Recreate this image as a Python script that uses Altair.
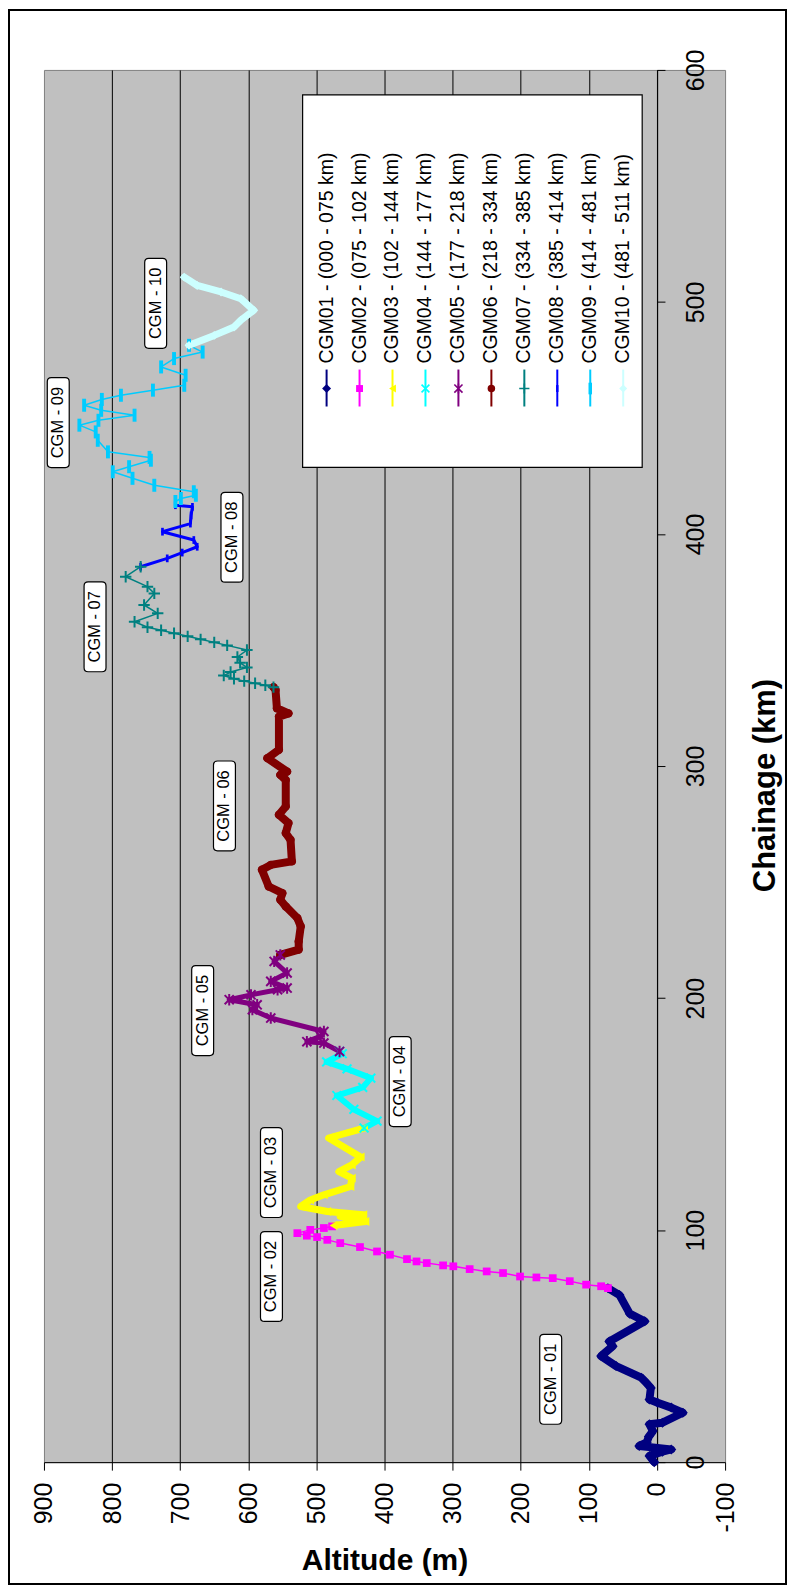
import altair as alt
import pandas as pd

# ---------------- data ----------------
series_short = ["CGM01", "CGM02", "CGM03", "CGM04", "CGM05",
                "CGM06", "CGM07", "CGM08", "CGM09", "CGM10"]
series_names = ["CGM01 - (000 - 075 km)", "CGM02 - (075 - 102 km)",
                "CGM03 - (102 - 144 km)", "CGM04 - (144 - 177 km)",
                "CGM05 - (177 - 218 km)", "CGM06 - (218 - 334 km)",
                "CGM07 - (334 - 385 km)", "CGM08 - (385 - 414 km)",
                "CGM09 - (414 - 481 km)", "CGM10 - (481 - 511 km)"]

cgm01_ch = [0, 2.7, 4.5, 5.5, 7, 8.5, 11, 13.4, 16.3, 17, 21.3, 23.5, 25.6, 27, 32,
            34.3, 36.4, 41.4, 45.7, 50, 52, 60.7, 64, 72, 75]
cgm01_alt = [4, 11, -8, -21, 26, 15, 12, 6, 11, -8, -38, -21, -1, 11, 9,
             16, 23, 60, 82, 65, 70, 18, 40, 55, 72]

cgm02_ch = [75, 75.8, 76.5, 78, 79.3, 79.6, 80, 81.5, 82.2, 83.2, 84.4, 84.8, 85.8,
            86.5, 87.5, 89.4, 90.8, 92.7, 94.4, 95.8, 97, 97.6, 98.7, 100.1, 100.9, 101.6]
cgm02_alt = [72, 82, 104, 128, 153, 177, 201, 226, 250, 275, 299, 314, 338,
             353, 367, 392, 411, 436, 465, 484, 499, 514, 528, 509, 489, 477]

cgm03_ch = [102, 103.7, 105.9, 106.6, 108, 110.2, 113, 115.2, 118.8, 122.4, 125.2,
            128.1, 131.5, 139.7, 144]
cgm03_alt = [475, 428, 465, 431, 484, 523, 509, 489, 450, 448, 467, 448, 435, 482, 430]

cgm04_ch = [144, 147, 152, 158, 161.5, 165.5, 169.5, 172.5, 176, 177]
cgm04_alt = [430, 411, 445, 470, 432, 420, 455, 485, 462, 466]

cgm05_ch = [177, 180.6, 181.2, 183.5, 185.6, 191.4, 195, 197.1, 199.3, 201.4, 203.6,
            204.3, 207.2, 210.8, 215.8, 218.6]
cgm05_alt = [466, 489, 514, 494, 489, 567, 594, 587, 628, 596, 557, 543, 567, 543, 562, 553]

cgm06_ch = [218.6, 220.9, 224.4, 230.9, 234.5, 239.5, 242.4, 245.2, 248.1, 255.3, 257.4,
            258.9, 268.2, 271.1, 275.4, 279, 282.6, 294, 296.2, 297.6, 303.4, 307,
            321.3, 322.7, 324.9, 332.8, 334]
cgm06_alt = [553, 526, 526, 523, 528, 545, 553, 550, 570, 580, 567, 536, 538, 545, 541,
             555, 545, 545, 553, 543, 572, 555, 555, 541, 558, 560, 563]

cgm07_ch = [334, 334.8, 335.7, 336.6, 337.6, 339, 340.5, 342.5, 344.5, 347, 350, 352,
            353.3, 354.6, 355.9, 357.2, 358.5, 359.8, 362.2, 365.8, 369.4, 374.4, 377.3,
            381.6, 385.9]
cgm07_alt = [563, 575, 590, 606, 621, 636, 626, 602, 612, 616, 602, 631, 650, 670, 689,
             709, 728, 748, 767, 733, 753, 738, 748, 780, 758]

cgm08_ch = [385.9, 389.5, 392, 394.5, 397.4, 401, 404.5, 408, 411.7, 412.4, 414]
cgm08_alt = [758, 719, 697, 675, 680, 726, 685, 684, 682, 707, 707]

cgm09_ch = [414, 415.3, 416.7, 418.2, 421, 424, 426.8, 429, 431.8, 433, 435.4, 440.4,
            444, 446.9, 449, 451.2, 453.3, 455.5, 458, 459.8, 462, 464.1, 468.4, 472,
            475.6, 478.4, 481.3]
cgm09_alt = [707, 699, 677, 680, 738, 770, 799, 775, 743, 745, 806, 821, 824, 848, 820,
             767, 816, 841, 815, 787, 740, 694, 692, 728, 709, 667, 687]

cgm10_ch = [481.3, 485.6, 489.2, 492.1, 496.4, 501.4, 504.3, 507.1, 510.7]
cgm10_alt = [687, 650, 621, 611, 592, 611, 640, 675, 694]

label_text = ["CGM - 01", "CGM - 02", "CGM - 03", "CGM - 04", "CGM - 05",
              "CGM - 06", "CGM - 07", "CGM - 08", "CGM - 09", "CGM - 10"]
label_ch = [35.7, 80, 124.8, 164, 194.6, 282.8, 360, 398.6, 448, 499.4]
label_alt = [156, 566, 566, 377, 667, 635, 825, 624, 879, 736]

alt_ticks = list(range(-100, 1000, 100))
ch_ticks = list(range(0, 700, 100))

# ---------------- styles ----------------
colors = ["#000080", "#FF00FF", "#FFFF00", "#00FFFF", "#800080",
          "#800000", "#008080", "#0000FF", "#00CCFF", "#CCFFFF"]
X_PATH = "M-0.8,-0.8L0.8,0.8M-0.8,0.8L0.8,-0.8"
STAR_PATH = "M-0.8,-0.8L0.8,0.8M-0.8,0.8L0.8,-0.8M0,-1L0,1"
PLUS_PATH = "M-1,0L1,0M0,-1L0,1"
DASH_S = "M-0.35,-1H0.35V1H-0.35Z"
DASH_L = "M-0.3,-1H0.3V1H-0.3Z"
shapes = ["diamond", "square", "triangle-left", X_PATH, STAR_PATH,
          "circle", PLUS_PATH, DASH_S, DASH_L, "diamond"]
stroked = [False, False, False, True, True, False, True, False, False, False]
marker_size = [100, 60, 80, 120, 130, 70, 130, 60, 170, 80]
line_width = [8, 1.5, 7, 6, 5, 8, 1.5, 3, 1.5, 7]

FONT = "Liberation Sans, Arial, sans-serif"

all_ch = [cgm01_ch, cgm02_ch, cgm03_ch, cgm04_ch, cgm05_ch,
          cgm06_ch, cgm07_ch, cgm08_ch, cgm09_ch, cgm10_ch]
all_alt = [cgm01_alt, cgm02_alt, cgm03_alt, cgm04_alt, cgm05_alt,
           cgm06_alt, cgm07_alt, cgm08_alt, cgm09_alt, cgm10_alt]

rows = []
for s in range(10):
    for k, (c, a) in enumerate(zip(all_ch[s], all_alt[s])):
        rows.append(dict(series=series_short[s], idx=k, ch=c, alt=a,
                         color=colors[s], shape=shapes[s], msize=marker_size[s],
                         sw=line_width[s], stroked=stroked[s]))
df = pd.DataFrame(rows)

# ---------------- geometry ----------------
W, H = 682, 1394
PXM = W / 1000.0          # px per metre
PXK = H / 600.0           # px per km


def px_alt(px):
    return 900 - px / PXM


def py_ch(py):
    return 600 - py / PXK


leg_rows = []
for i in range(10):
    xpx = 283 + 33 * i
    leg_rows.append(dict(name=series_names[i], a=px_alt(xpx),
                         ct=py_ch(294), cm=py_ch(319), c1=py_ch(300), c2=py_ch(337),
                         color=colors[i], shape=shapes[i],
                         msize=marker_size[i] * 0.8, stroked=stroked[i]))
leg = pd.DataFrame(leg_rows)

lab = pd.DataFrame(dict(text=label_text, ch=label_ch, alt=label_alt))

xscale = alt.Scale(domain=[-100, 900], reverse=True, nice=False, zero=False)
yscale = alt.Scale(domain=[0, 600], nice=False, zero=False)

xaxis = alt.Axis(values=alt_ticks, title="Altitude (m)", labelAngle=270,
                 labelAlign="right", labelBaseline="middle", labelFontSize=25,
                 labelFont=FONT, labelColor="black", labelPadding=12, tickSize=8,
                 tickColor="black", domainColor="black", grid=True, gridColor="black",
                 gridWidth=1,
                 gridOpacity=alt.condition("datum.value == 900 || datum.value == -100",
                                           alt.value(0), alt.value(1)),
                 labelExpr="'' + datum.value", labelFlush=False, labelOverlap=False,
                 titleFont=FONT, titleFontSize=30, titleFontWeight="bold",
                 titleColor="black", titleY=107, titleBaseline="alphabetic")
yaxis = alt.Axis(values=ch_ticks, orient="right", offset=-68.2, title="Chainage (km)",
                 labelAngle=270, labelAlign="center", labelBaseline="top",
                 labelFontSize=25, labelFont=FONT, labelColor="black", labelPadding=19,
                 tickSize=8, tickColor="black", domainColor="black", grid=False,
                 labelExpr="'' + datum.value", labelFlush=False, labelOverlap=False,
                 titleFont=FONT, titleFontSize=31, titleFontWeight="bold",
                 titleColor="black", titleAngle=270, titleAlign="center",
                 titleBaseline="alphabetic", titleX=118, titleY=716)

X = alt.X("alt:Q", scale=xscale, axis=xaxis)
Y = alt.Y("ch:Q", scale=yscale, axis=yaxis)

base = alt.Chart(df)

lines = base.mark_line(strokeJoin="round", strokeCap="round").encode(
    x=X, y=Y, detail="series:N", order=alt.Order("idx:Q"),
    color=alt.Color("color:N", scale=None),
    strokeWidth=alt.StrokeWidth("sw:Q", scale=None))

pts_fill = base.transform_filter("!datum.stroked").mark_point(
    filled=True, opacity=1).encode(
    x="alt:Q", y="ch:Q",
    color=alt.Color("color:N", scale=None),
    shape=alt.Shape("shape:N", scale=None),
    size=alt.Size("msize:Q", scale=None))

pts_stroke = base.transform_filter("datum.stroked").mark_point(
    filled=False, opacity=1, strokeWidth=2).encode(
    x="alt:Q", y="ch:Q",
    color=alt.Color("color:N", scale=None),
    shape=alt.Shape("shape:N", scale=None),
    size=alt.Size("msize:Q", scale=None))

BOX = ("M-0.154,-1H0.154Q0.244,-1 0.244,-0.91V0.91Q0.244,1 0.154,1H-0.154"
       "Q-0.244,1 -0.244,0.91V-0.91Q-0.244,-1 -0.154,-1Z")
lab_box = alt.Chart(lab).mark_point(shape=BOX, size=8100, filled=True, fill="white",
                                    stroke="black", strokeWidth=1.2, opacity=1).encode(
    x="alt:Q", y="ch:Q")
lab_text = alt.Chart(lab).mark_text(angle=270, align="center", baseline="middle",
                                    font=FONT, fontSize=16.5, color="black").encode(
    x="alt:Q", y="ch:Q", text="text:N")

one = alt.Data(values=[{"k": 1}])
legend_box = alt.Chart(one).mark_rect(fill="white", stroke="black",
                                      strokeWidth=1.2).encode(
    x=alt.value(259), x2=alt.value(599), y=alt.value(25), y2=alt.value(398))
leg_rule = alt.Chart(leg).mark_rule(strokeWidth=2).encode(
    x="a:Q", y="c1:Q", y2="c2:Q", color=alt.Color("color:N", scale=None))
leg_fill = alt.Chart(leg).transform_filter("!datum.stroked").mark_point(
    filled=True, opacity=1).encode(
    x="a:Q", y="cm:Q", color=alt.Color("color:N", scale=None),
    shape=alt.Shape("shape:N", scale=None), size=alt.Size("msize:Q", scale=None))
leg_stroke = alt.Chart(leg).transform_filter("datum.stroked").mark_point(
    filled=False, opacity=1, strokeWidth=1.6).encode(
    x="a:Q", y="cm:Q", color=alt.Color("color:N", scale=None),
    shape=alt.Shape("shape:N", scale=None), size=alt.Size("msize:Q", scale=None))
leg_text = alt.Chart(leg).mark_text(angle=270, align="left", baseline="middle",
                                    font=FONT, fontSize=19.5, color="black").encode(
    x="a:Q", y="ct:Q", text="name:N")

border = alt.Chart(one).mark_rect(filled=False, stroke="black", strokeWidth=2).encode(
    x=alt.value(-35), x2=alt.value(743), y=alt.value(-60), y2=alt.value(1516))

chart = alt.layer(
    lines, pts_fill, pts_stroke, lab_box, lab_text,
    legend_box, leg_rule, leg_fill, leg_stroke, leg_text, border
).properties(
    width=W, height=H,
    autosize=alt.AutoSizeParams(type="none"),
    padding={"left": 36, "top": 61, "right": 62, "bottom": 124},
    background="white"
).configure_view(
    fill="#C0C0C0", stroke="#808080", strokeWidth=1
)

chart.save("out.html", embed_options={"renderer": "svg", "actions": False})
